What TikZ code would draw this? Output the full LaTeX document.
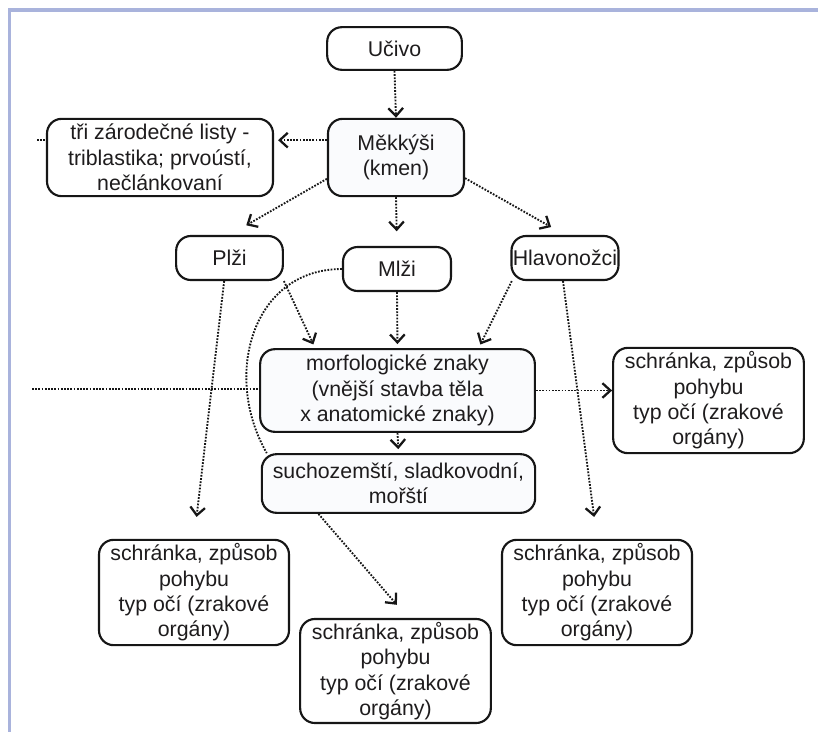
\documentclass[tikz,border=0pt]{standalone}
\usepackage{fontspec}
\setmainfont{Liberation Sans}
\usetikzlibrary{positioning, arrows.meta}
\definecolor{clrborder}{HTML}{161616}
\definecolor{clrtext}{HTML}{1E1C1D}
\definecolor{clrframe}{HTML}{A9B3DC}
\definecolor{clrlight}{HTML}{FAFBFD}

\begin{document}
\begin{tikzpicture}[
    x=0.75pt, y=-0.75pt,
    >={Straight Barb[length=6pt, width=11pt, line width=1.7pt]},
    every node/.style={font=\fontsize{16}{19}\selectfont},
    block/.style={draw=clrborder, rounded corners=11pt, align=center,
                  text=clrtext, line width=1.6pt, inner sep=1pt},
    arrow/.style={->, color=clrborder, line width=1.4pt, dash pattern=on 1.3pt off 1.1pt},
    link/.style={color=clrborder, line width=1.4pt, dash pattern=on 1.3pt off 1.1pt},
]
\useasboundingbox (0,0) rectangle (818,732);
\draw[color=clrframe, line width=2.3pt] (9.5,732) -- (9.5,10) -- (818,10);
\node[block, fill=white, minimum width=101pt, minimum height=32pt] (n_1) at (394.5,48.5) {Učivo};
\node[block, fill=clrlight, minimum width=102pt, minimum height=58pt] (n_2) at (396,157.5) {Měkkýši\\(kmen)};
\node[block, fill=white, minimum width=169.5pt, minimum height=58pt] (n_3) at (160,157.5) {tři zárodečné listy -\\triblastika; prvoústí,\\nečlánkovaní};
\node[block, fill=white, minimum width=80pt, minimum height=33pt] (n_4) at (229.5,258) {Plži};
\node[block, fill=white, minimum width=81pt, minimum height=33pt] (n_5) at (397,269) {Mlži};
\node[block, fill=white, minimum width=79.5pt, minimum height=33pt] (n_6) at (565,258) {Hlavonožci};
\node[block, fill=clrlight, minimum width=206pt, minimum height=62pt] (n_7) at (397.5,390.5) {morfologické znaky\\(vnější stavba těla\\x anatomické znaky)};
\node[block, fill=white, minimum width=143pt, minimum height=79pt] (n_8) at (708.5,400.5) {schránka, způsob\\pohybu\\typ očí (zrakové\\orgány)};
\node[block, fill=clrlight, minimum width=205pt, minimum height=44pt] (n_9) at (398.5,483.5) {suchozemští, sladkovodní,\\mořští};
\node[block, fill=white, minimum width=142.5pt, minimum height=79pt] (n_10) at (194,592.5) {schránka, způsob\\pohybu\\typ očí (zrakové\\orgány)};
\node[block, fill=white, minimum width=143pt, minimum height=78pt] (n_11) at (395.5,671) {schránka, způsob\\pohybu\\typ očí (zrakové\\orgány)};
\node[block, fill=white, minimum width=142.5pt, minimum height=79pt] (n_12) at (597,592.5) {schránka, způsob\\pohybu\\typ očí (zrakové\\orgány)};
\coordinate (c_1) at (37,140);
\coordinate (c_2) at (32,389);
\draw[arrow] (n_1.south) -- (n_2.north);
\draw[arrow, shorten >=3pt] ([yshift=13pt]n_2.west) -- ([yshift=13pt]n_3.east);
\draw[link] (c_1) -- (c_1 -| n_3.west);
\draw[arrow, shorten >=14.5pt] ([yshift=-16pt]n_2.west) -- (n_4.north);
\draw[arrow, shorten >=11pt] (n_2.south) -- (n_5.north);
\draw[arrow, shorten >=12pt] ([yshift=-15.5pt]n_2.east) -- (n_6.north);
\draw[arrow, shorten >=16.5pt] ([xshift=-4pt]n_4.south) -- (n_10.north);
\draw[arrow, shorten >=3pt] (n_4.south east) -- ([xshift=42pt]n_7.north west);
\draw[arrow, shorten >=3pt] (n_5.south) -- (n_7.north);
\draw[arrow, shorten >=3pt] ([xshift=1pt]n_6.south west) -- ([xshift=-43pt]n_7.north east);
\draw[arrow, shorten >=16.5pt] ([xshift=-1.5pt]n_6.south) -- (n_12.north);
\draw[link] (n_5.west) to[out=180, in=120, looseness=1.15] ([xshift=4.5pt]n_9.north west);
\draw[arrow] (n_7.east) -- (n_7.east -| n_8.west);
\draw[link] (c_2) -- (c_2 -| n_7.west);
\draw[arrow, shorten >=3pt] (n_7.south) -- (n_9.north);
\draw[arrow, shorten >=13pt] ([xshift=-60pt]n_9.south) -- ([xshift=9.5pt]n_11.north);
\end{tikzpicture}
\end{document}
